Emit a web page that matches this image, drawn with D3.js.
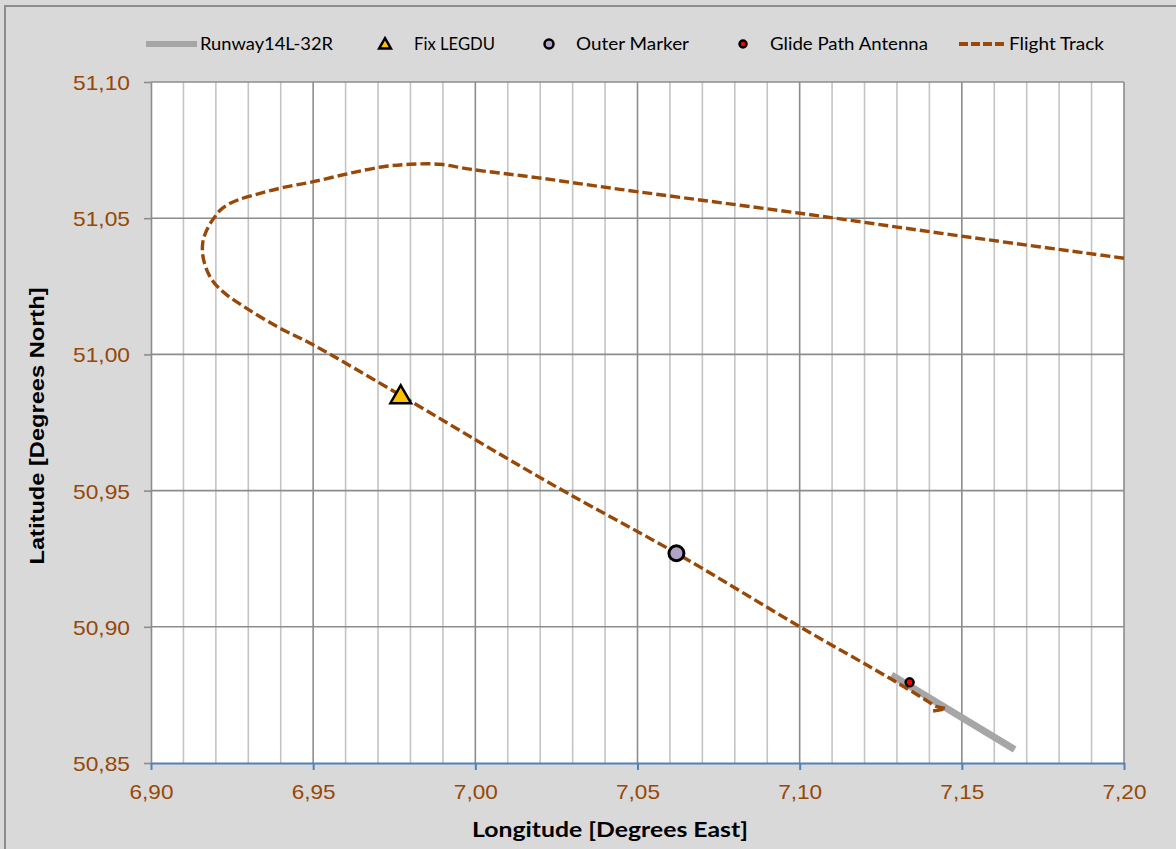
<!DOCTYPE html>
<html><head><meta charset="utf-8">
<script src="https://cdn.jsdelivr.net/npm/d3@7"></script>
<style>html,body{margin:0;padding:0;background:#d9d9d9;}svg{display:block;}</style>
</head><body>
<svg id="chart" width="1176" height="849"></svg>
<script>
// ---- data ----
const xTicks = [6.90, 6.95, 7.00, 7.05, 7.10, 7.15, 7.20];
const yTicks = [50.85, 50.90, 50.95, 51.00, 51.05, 51.10];
const seriesNames = ["Runway14L-32R", "Fix LEGDU", "Outer Marker", "Glide Path Antenna", "Flight Track"];
const runway = [[7.1283, 50.8823], [7.1663, 50.8550]];
const fixLEGDU = [[6.9770, 50.9850]];
const outerMarker = [[7.0620, 50.9270]];
const glidePathAntenna = [[7.1339, 50.8796]];
const flightTrackLon = [7.2000, 7.1494, 7.1001, 7.0446, 7.0189, 6.9983, 6.9891, 6.9800, 6.9716, 6.9613, 6.9500, 6.9408, 6.9336, 6.9270, 6.9234, 6.9214, 6.9197, 6.9177, 6.9161, 6.9159, 6.9170, 6.9192, 6.9228, 6.9295, 6.9398, 6.9500, 6.9768, 7.0088, 7.0285, 7.0620, 7.1001, 7.1278, 7.1381, 7.1422, 7.1451, 7.1411];
const flightTrackLat = [51.0353, 51.0435, 51.0518, 51.0606, 51.0649, 51.0680, 51.0698, 51.0698, 51.0689, 51.0665, 51.0634, 51.0613, 51.0591, 51.0568, 51.0548, 51.0530, 51.0505, 51.0469, 51.0420, 51.0371, 51.0316, 51.0267, 51.0224, 51.0169, 51.0096, 51.0035, 50.9851, 50.9625, 50.9490, 50.9270, 50.9000, 50.8811, 50.8737, 50.8707, 50.8700, 50.8691];

// ---- layout ----
const svg = d3.select("#chart");
const pL = 151, pR = 1124, pT = 82, pB = 763;
const x = d3.scaleLinear().domain([6.90, 7.20]).range([pL, pR]);
const y = d3.scaleLinear().domain([50.85, 51.10]).range([pB, pT]);
const fmt = d3.formatLocale({decimal: ",", thousands: ".", grouping: [3], currency: ["", "€"]}).format(".2f");
const labelColor = "#974706";
const trackColor = "#984807";

svg.append("rect").attr("x", 5).attr("y", 6).attr("width", 1200).attr("height", 900)
  .attr("fill", "#d9d9d9").attr("stroke", "#8c8c8c").attr("stroke-width", 2);

svg.append("rect").attr("x", pL).attr("y", pT).attr("width", pR - pL).attr("height", pB - pT).attr("fill", "#fff");

// minor vertical gridlines
const minor = d3.range(0, 31).map(i => 6.90 + i * 0.01).filter(v => Math.abs(Math.round(v * 20) - v * 20) > 1e-6);
svg.append("g").selectAll("line").data(minor).join("line")
  .attr("x1", d => x(d)).attr("x2", d => x(d)).attr("y1", pT).attr("y2", pB)
  .attr("stroke", "#c4c4c4").attr("stroke-width", 1.6);
// major gridlines
svg.append("g").selectAll("line").data(xTicks.slice(1)).join("line")
  .attr("x1", d => x(d)).attr("x2", d => x(d)).attr("y1", pT).attr("y2", pB)
  .attr("stroke", "#8c8c8c").attr("stroke-width", 1.6);
svg.append("g").selectAll("line").data(yTicks.slice(1)).join("line")
  .attr("x1", pL).attr("x2", pR).attr("y1", d => y(d)).attr("y2", d => y(d))
  .attr("stroke", "#8c8c8c").attr("stroke-width", 1.6);

// y axis
const yAxis = svg.append("g").attr("transform", `translate(${pL},0)`)
  .call(d3.axisLeft(y).tickValues(yTicks).tickFormat(fmt).tickSizeOuter(0).tickSizeInner(7).tickPadding(14));
yAxis.select(".domain").attr("stroke", "#8c8c8c").attr("stroke-width", 1.6);
yAxis.selectAll(".tick line").attr("stroke", "#8c8c8c").attr("stroke-width", 1.6);
yAxis.selectAll(".tick text").attr("fill", labelColor).attr("font-family", "Liberation Sans, Arial, sans-serif").attr("font-size", 21)
  .attr("dy", "0.36em").attr("textLength", 57).attr("lengthAdjust", "spacingAndGlyphs");

// x axis
const xAxis = svg.append("g").attr("transform", `translate(0,${pB})`)
  .call(d3.axisBottom(x).tickValues(xTicks).tickFormat(fmt).tickSizeOuter(0).tickSizeInner(7).tickPadding(14));
xAxis.select(".domain").attr("stroke", "#4f81bd").attr("stroke-width", 2);
xAxis.selectAll(".tick line").attr("stroke", "#4f81bd").attr("stroke-width", 2);
xAxis.selectAll(".tick text").attr("fill", labelColor).attr("font-family", "Liberation Sans, Arial, sans-serif").attr("font-size", 21)
  .attr("dy", "0.71em").attr("textLength", 44).attr("lengthAdjust", "spacingAndGlyphs");

// axis titles
svg.append("text").attr("x", 610).attr("y", 837).attr("text-anchor", "middle")
  .attr("font-family", "Lato, sans-serif").attr("font-weight", "bold").attr("font-size", 21).attr("fill", "#000")
  .attr("textLength", 276).attr("lengthAdjust", "spacingAndGlyphs")
  .text("Longitude [Degrees East]");
svg.append("text").attr("transform", "translate(44,426) rotate(-90)").attr("text-anchor", "middle")
  .attr("font-family", "Liberation Sans, Arial, sans-serif").attr("font-weight", "bold").attr("font-size", 21).attr("fill", "#000")
  .attr("textLength", 277).attr("lengthAdjust", "spacingAndGlyphs")
  .text("Latitude [Degrees North]");

// runway
const line = d3.line().x(d => x(d[0])).y(d => y(d[1]));
svg.append("path").attr("d", line(runway)).attr("fill", "none").attr("stroke", "#a6a6a6").attr("stroke-width", 7);

// flight track
const track = flightTrackLon.map((v, i) => [v, flightTrackLat[i]]);
svg.append("path").attr("d", d3.line().x(d => x(d[0])).y(d => y(d[1])).curve(d3.curveCatmullRom.alpha(0.5))(track))
  .attr("fill", "none").attr("stroke", trackColor).attr("stroke-width", 3.4).attr("stroke-dasharray", "10,4");

// markers
const tri = d3.symbol().type(d3.symbolTriangle).size(185);
svg.append("g").selectAll("path").data(fixLEGDU).join("path")
  .attr("d", tri).attr("transform", d => `translate(${x(d[0])},${y(d[1]) + 2})`)
  .attr("fill", "#ffc000").attr("stroke", "#000").attr("stroke-width", 2.5);
svg.append("g").selectAll("circle").data(outerMarker).join("circle")
  .attr("cx", d => x(d[0])).attr("cy", d => y(d[1])).attr("r", 7.5)
  .attr("fill", "#b3a2c7").attr("stroke", "#000").attr("stroke-width", 3);
svg.append("g").selectAll("circle").data(glidePathAntenna).join("circle")
  .attr("cx", d => x(d[0])).attr("cy", d => y(d[1])).attr("r", 4)
  .attr("fill", "#ff0000").attr("stroke", "#000").attr("stroke-width", 2.5);

// legend
const lg = svg.append("g").attr("font-family", "Lato, sans-serif").attr("font-size", 17).attr("fill", "#000");
const ly = 44;
const legendText = (xPos, name, len) => lg.append("text").attr("x", xPos).attr("y", ly + 6)
  .attr("textLength", len).attr("lengthAdjust", "spacingAndGlyphs").text(name);
lg.append("line").attr("x1", 146).attr("x2", 197).attr("y1", ly).attr("y2", ly).attr("stroke", "#a6a6a6").attr("stroke-width", 6);
legendText(200, seriesNames[0], 133);
lg.append("path").attr("d", d3.symbol().type(d3.symbolTriangle).size(60)).attr("transform", `translate(385,${ly + 1})`)
  .attr("fill", "#ffc000").attr("stroke", "#000").attr("stroke-width", 2.5);
legendText(414, seriesNames[1], 81);
lg.append("circle").attr("cx", 549).attr("cy", ly).attr("r", 4.5).attr("fill", "#b3a2c7").attr("stroke", "#000").attr("stroke-width", 2.5);
legendText(576, seriesNames[2], 113);
lg.append("circle").attr("cx", 743).attr("cy", ly).attr("r", 3.5).attr("fill", "#ff0000").attr("stroke", "#000").attr("stroke-width", 2.5);
legendText(770, seriesNames[3], 158);
lg.append("line").attr("x1", 959).attr("x2", 1007).attr("y1", ly).attr("y2", ly).attr("stroke", trackColor).attr("stroke-width", 4).attr("stroke-dasharray", "9,3");
legendText(1009, seriesNames[4], 95);
</script>
</body></html>
